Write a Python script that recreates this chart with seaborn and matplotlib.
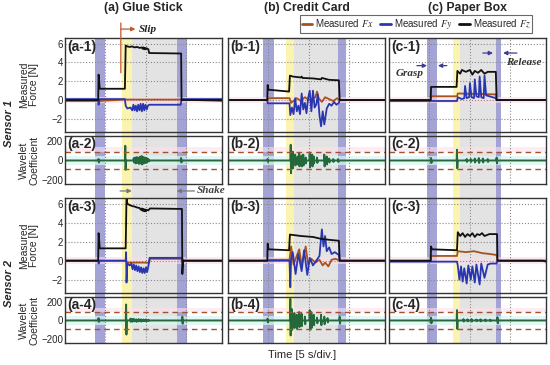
import numpy as np
import seaborn as sns
import matplotlib.pyplot as plt

sns.set_theme(style='white')
plt.rcParams['font.family'] = ['Liberation Sans', 'DejaVu Sans']
plt.rcParams['mathtext.fontset'] = 'stix'

# ---- data (time in s, force in N) ----
T_END = 19.4

# (a) glue stick, sensor 1
a1_fz_t = [0, 4.1, 4.15, 4.3, 7.4, 7.5, 7.7, 8.0, 8.3, 8.6, 8.9, 9.2, 9.5, 9.6, 9.7, 9.8, 9.9, 10.0, 10.1, 10.3, 10.4, 14.35, 14.4, T_END]
a1_fz = [0, 0, 2.7, 1.2, 1.2, 5.8, 5.7, 5.65, 5.7, 5.6, 5.65, 5.55, 5.6, 5.45, 5.6, 5.4, 5.55, 5.4, 5.5, 5.4, 5.0, 4.95, 0, 0]
a1_fy_t = [0, 4.1, 4.15, 4.3, 7.4, 7.5, 7.7, 8.1, 8.3, 8.45, 8.6, 8.75, 8.9, 9.05, 9.2, 9.35, 9.5, 9.65, 9.8, 9.95, 10.1, 10.25, 10.4, 14.3, 14.4, T_END]
a1_fy = [0.1, 0.1, -0.5, 0.1, 0.1, -0.6, -0.9, -0.8, -1.1, -0.5, -1.1, -0.6, -1.2, -0.5, -1.1, -0.4, -1.2, -0.4, -1.1, -0.5, -1.0, -0.6, -0.5, -0.5, 0.1, 0.1]
a1_fx_t = [0, 4.15, 7.5, 14.4, T_END]
a1_fx = [-0.1, -0.1, 0.05, 0.05, -0.1]
a2_t = [4.15, 7.45, 8.5, 8.7, 8.9, 9.1, 9.3, 9.5, 9.7, 9.9, 10.1, 10.3, 14.35]
a2_up = [15, 150, 25, 30, 35, 28, 40, 45, 35, 30, 25, 15, 25]
a2_dn = [-20, -95, -20, -30, -25, -35, -30, -40, -30, -25, -20, -10, -20]

# (a) glue stick, sensor 2
a3_fz_t = [0, 4.1, 4.15, 4.3, 7.5, 7.6, 7.7, 8.0, 8.3, 8.6, 8.9, 9.2, 9.4, 9.5, 9.6, 9.7, 9.8, 9.9, 10.0, 10.1, 10.3, 10.5, 14.45, 14.5, 14.6, T_END]
a3_fz = [0, 0, 2.9, 1.3, 1.3, 6.8, 6.0, 5.85, 5.75, 5.7, 5.6, 5.55, 5.35, 5.5, 5.25, 5.45, 5.2, 5.4, 5.2, 5.35, 5.3, 5.5, 5.45, -1.4, 0, 0]
a3_fy_t = [0, 4.1, 4.15, 4.3, 7.5, 7.55, 7.6, 7.7, 8.0, 8.2, 8.35, 8.5, 8.65, 8.8, 8.95, 9.1, 9.25, 9.4, 9.55, 9.7, 9.85, 10.0, 10.15, 10.3, 10.45, 14.45, 14.5, T_END]
a3_fy = [0, 0, -0.3, 0, 0, 0.9, -2.3, -0.3, -0.5, -0.3, -0.9, -0.4, -1.0, -0.5, -1.1, -0.6, -1.2, -0.7, -1.3, -0.8, -1.3, -0.7, -1.2, -0.6, 0.3, 0.3, 0, 0]
a3_fx_t = [0, 7.5, 7.7, 10.4, 10.5, 14.5, 14.6, T_END]
a3_fx = [0, 0, -0.2, -0.2, 0.2, 0.2, 0, 0]
a4_t = [4.15, 7.55, 8.1, 8.3, 8.5, 8.8, 9.1, 9.4, 9.7, 10.0, 10.3, 14.5]
a4_up = [25, 170, 20, 15, 18, 12, 15, 12, 10, 12, 8, 40]
a4_dn = [-15, -150, -15, -12, -10, -15, -10, -12, -8, -10, -6, -35]

# (b) credit card, sensor 1
b1_fz_t = [0, 4.85, 4.9, 5.0, 7.55, 7.65, 8.0, 9.0, 9.1, 9.2, 10.5, 11.5, 11.6, 12.5, 13.7, 13.8, T_END]
b1_fz = [0, 0, 1.6, 1.1, 0.9, 2.6, 2.5, 2.4, 2.5, 2.35, 2.3, 2.2, 2.35, 2.15, 2.1, 0, 0]
b1_fy_t = [0, 4.85, 4.9, 7.6, 7.7, 7.9, 8.1, 8.3, 8.5, 8.7, 8.9, 9.1, 9.3, 9.5, 9.7, 9.9, 10.1, 10.3, 10.5, 10.7, 10.9, 11.1, 11.3, 11.5, 11.7, 11.9, 12.2, 12.5, 12.8, 13.1, 13.4, 13.7, 13.8, T_END]
b1_fy = [0, 0, -0.35, -0.35, -1.6, -0.8, -1.5, 0.2, -1.2, -0.6, -1.5, 0.7, -1.0, -0.3, -1.4, 0.2, 1.0, -1.2, 1.0, -0.8, -0.5, 0.6, -1.6, -2.8, -1.2, -2.6, -0.9, -0.4, -0.6, -0.2, -0.5, -0.3, 0, 0]
b1_fx_t = [0, 4.9, 5.0, 7.6, 7.8, 8.5, 9.0, 9.5, 10.0, 10.5, 10.8, 11.0, 11.2, 11.6, 12.0, 12.5, 13.0, 13.5, 13.8, T_END]
b1_fx = [0, 0, 0.2, 0.2, -0.3, 0.2, -0.1, 0.3, 0.0, 0.2, 0.3, 0.9, 0.2, -0.2, 0.3, 0.1, -0.1, 0.2, 0, 0]
b2_t = [4.9, 7.75, 8.0, 8.3, 8.6, 8.8, 9.1, 9.3, 9.6, 10.1, 10.4, 10.6, 11.0, 11.9, 12.2, 12.5, 13.0, 13.6]
b2_up = [15, 160, 90, 60, 40, 70, 50, 60, 30, 70, 60, 40, 30, 60, 40, 20, 15, 15]
b2_dn = [-15, -130, -80, -50, -40, -60, -60, -50, -30, -70, -60, -30, -25, -60, -40, -20, -15, -15]

# (b) credit card, sensor 2
b3_fz_t = [0, 4.85, 4.9, 5.0, 7.55, 7.65, 9.0, 10.5, 11.5, 12.5, 13.7, 13.8, T_END]
b3_fz = [0, 0, 1.8, 1.2, 1.1, 2.75, 2.6, 2.5, 2.3, 2.2, 2.1, 0, 0]
b3_fy_t = [0, 7.6, 7.7, 7.8, 8.0, 8.35, 8.7, 9.1, 9.4, 9.8, 10.1, 10.5, 10.9, 11.3, 11.6, 11.8, 12.0, 12.2, 12.5, 12.8, 13.2, 13.7, 13.8, T_END]
b3_fy = [0, 0, -2.8, 0.2, 0.9, -1.4, 0.7, -1.1, 1.1, -1.5, 0.3, -0.5, 0.0, 0.5, 3.3, 1.5, 2.6, 1.0, 1.4, 0.7, 0.9, 0.6, 0, 0]
b3_fx_t = [0, 4.9, 5.0, 7.6, 7.8, 8.1, 8.4, 8.8, 9.1, 9.6, 9.9, 10.3, 10.8, 11.3, 11.7, 12.0, 12.4, 12.8, 13.3, 13.8, T_END]
b3_fx = [0, 0, 0.1, 0.1, 1.5, -0.4, 0.3, 1.2, -0.5, 1.5, -0.4, 0.2, -0.2, 0.1, -0.5, -0.2, -0.6, 0.1, 0.2, 0, 0]
b4_t = [4.9, 7.7, 7.9, 8.2, 8.5, 8.8, 9.1, 9.5, 10.1, 10.3, 10.6, 11.0, 11.5, 11.9, 12.3, 13.8]
b4_up = [20, 230, 120, 80, 60, 90, 70, 40, 110, 90, 60, 30, 60, 40, 25, 40]
b4_dn = [-20, -160, -100, -80, -90, -70, -60, -40, -100, -80, -50, -30, -50, -40, -20, -35]

# (c) paper box, sensor 1
c1_fz_t = [0, 5.15, 5.2, 8.35, 8.45, 8.8, 9.0, 9.5, 10.0, 10.3, 10.6, 11.0, 11.4, 11.8, 12.2, 13.2, 13.3, T_END]
c1_fz = [0, 0, 1.4, 1.4, 3.1, 2.8, 3.2, 3.0, 3.2, 2.7, 3.1, 2.9, 3.2, 2.8, 3.0, 3.0, 0, 0]
c1_fy_t = [0, 8.4, 8.5, 9.0, 9.3, 9.4, 9.6, 9.9, 10.0, 10.2, 10.5, 10.6, 10.8, 11.1, 11.2, 11.4, 11.7, 11.8, 12.0, 12.4, 13.2, 13.3, T_END]
c1_fy = [-0.1, -0.1, 0.3, 0.1, 0.2, 1.5, 0.2, 0.3, 1.8, 0.3, 0.2, 2.2, 0.4, 0.3, 2.5, 0.3, 0.2, 2.6, 0.5, 0.4, 0.2, 0, 0]
c1_fx_t = [0, 5.15, 5.2, 8.4, 8.5, 13.2, 13.3, T_END]
c1_fx = [0, 0, 0.4, 0.4, 0.7, 0.6, 0, 0]
c2_t = [5.2, 8.4, 9.6, 10.1, 10.6, 11.1, 11.6, 12.2, 13.3]
c2_up = [25, 110, 15, 15, 20, 25, 20, 15, 30]
c2_dn = [-25, -80, -15, -15, -20, -25, -20, -15, -30]

# (c) paper box, sensor 2
c3_fz_t = [0, 5.15, 5.2, 5.3, 8.4, 8.5, 8.8, 9.1, 9.4, 9.7, 10.0, 10.3, 10.6, 10.9, 11.2, 11.5, 11.8, 12.4, 13.35, 13.4, 19.0, T_END]
c3_fz = [0, 0, 1.5, 1.2, 1.1, 3.0, 2.6, 2.9, 2.5, 2.8, 2.6, 2.9, 2.5, 2.8, 2.7, 2.9, 2.6, 2.8, 2.8, 0, 0, -0.1]
c3_fy_t = [0, 8.4, 8.5, 8.7, 8.9, 9.1, 9.3, 9.6, 9.8, 10.1, 10.3, 10.6, 10.8, 11.2, 11.4, 11.8, 12.2, 12.6, 13.3, 13.4, T_END]
c3_fy = [-0.1, -0.1, -0.5, -2.0, -0.6, -2.2, -0.8, -2.4, -0.5, -2.0, -0.6, -2.3, -0.4, -2.5, -0.3, -1.8, -0.4, -0.3, -0.3, 0, 0]
c3_fx_t = [0, 5.15, 5.2, 8.4, 8.5, 9.5, 10.5, 11.5, 12.5, 13.3, 13.4, T_END]
c3_fx = [0, 0, 0.5, 0.5, 1.0, 0.9, 1.0, 0.8, 0.7, 0.6, 0, 0]
c4_t = [5.2, 8.4, 9.2, 9.7, 10.2, 10.8, 11.3, 11.9, 12.5, 13.4]
c4_up = [30, 110, 15, 12, 15, 10, 12, 10, 8, 35]
c4_dn = [-30, -90, -12, -10, -12, -8, -10, -8, -6, -30]

# phase bands per column: grasp, slip, shake, release
grasp = [(3.65, 4.9), (4.3, 5.7), (4.7, 5.9)]
slip = [(7.1, 8.3), (7.2, 8.15), (7.9, 8.8)]
shake = [(8.3, 13.8), (8.15, 13.6), (8.8, 13.2)]
release = [(13.8, 15.1), (13.6, 14.6), (13.2, 13.8)]

titles = ['(a) Glue Stick', '(b) Credit Card', '(c) Paper Box']
FX_C, FY_C, FZ_C, WV_C = '#a5521f', '#2a36b0', '#111111', '#25683a'

# ---- layout in pixels ----
W, H = 550, 365
fig = plt.figure(figsize=(5.5, 3.65), dpi=100)


def box(x0, y0, x1, y1):
    return [x0 / W, 1 - y1 / H, (x1 - x0) / W, (y1 - y0) / H]


col_x = [(65, 222), (228, 385), (389, 546)]
row_y = [(38, 132), (136, 184), (198, 293), (297, 343)]


def spikes(t, up, dn):
    xs, ys = [0], [0]
    for ti, u, d in zip(t, up, dn):
        xs += [ti - 0.04, ti, ti + 0.04, ti + 0.08]
        ys += [0, u, d, 0]
    xs.append(T_END)
    ys.append(0)
    return xs, ys


force = {
    (0, 0): (a1_fx_t, a1_fx, a1_fy_t, a1_fy, a1_fz_t, a1_fz),
    (2, 0): (a3_fx_t, a3_fx, a3_fy_t, a3_fy, a3_fz_t, a3_fz),
    (0, 1): (b1_fx_t, b1_fx, b1_fy_t, b1_fy, b1_fz_t, b1_fz),
    (2, 1): (b3_fx_t, b3_fx, b3_fy_t, b3_fy, b3_fz_t, b3_fz),
    (0, 2): (c1_fx_t, c1_fx, c1_fy_t, c1_fy, c1_fz_t, c1_fz),
    (2, 2): (c3_fx_t, c3_fx, c3_fy_t, c3_fy, c3_fz_t, c3_fz),
}
wave = {
    (1, 0): (a2_t, a2_up, a2_dn), (3, 0): (a4_t, a4_up, a4_dn),
    (1, 1): (b2_t, b2_up, b2_dn), (3, 1): (b4_t, b4_up, b4_dn),
    (1, 2): (c2_t, c2_up, c2_dn), (3, 2): (c4_t, c4_up, c4_dn),
}

axes = {}
for c, (x0, x1) in enumerate(col_x):
    # background strip carrying the phase bands through all four rows
    bg = fig.add_axes(box(x0, 38, x1, 343), zorder=0)
    bg.set_xlim(0, T_END)
    bg.axis('off')
    bg.axvspan(*grasp[c], color='#a4a3d6', lw=0)
    bg.axvspan(*release[c], color='#a4a3d6', lw=0)
    bg.axvspan(*slip[c], color='#fbf4ae', lw=0)
    bg.axvspan(*shake[c], color='#e3e3e3', lw=0)
    for r, (y0, y1) in enumerate(row_y):
        ax = fig.add_axes(box(x0, y0, x1, y1), zorder=1)
        ax.set_facecolor('none')
        axes[(r, c)] = ax

for (r, c), ax in axes.items():
    ax.set_xlim(0, T_END)
    ax.set_xticks([5, 10, 15])
    ax.set_xticklabels([])
    if r in (0, 2):
        fxt, fx, fyt, fy, fzt, fz = force[(r, c)]
        ax.axhspan(-0.35, 0.35, color='#ffdbe8', alpha=0.6, lw=0, zorder=0)
        sns.lineplot(x=fxt, y=fx, ax=ax, color=FX_C, lw=1.3, estimator=None, sort=False, label='Measured $Fx$')
        sns.lineplot(x=fyt, y=fy, ax=ax, color=FY_C, lw=1.3, estimator=None, sort=False, label='Measured $Fy$')
        sns.lineplot(x=fzt, y=fz, ax=ax, color=FZ_C, lw=1.3, estimator=None, sort=False, label='Measured $Fz$')
        ax.set_ylim(-3.4, 6.6)
        ax.set_yticks([-2, 0, 2, 4, 6])
        ax.grid(True, ls=':', color='#8a8a8a', lw=0.8)
    else:
        t, up, dn = wave[(r, c)]
        xs, ys = spikes(t, up, dn)
        ax.axhspan(-45, 45, color='#d8f6f4', alpha=0.7, lw=0, zorder=0)
        ax.axhspan(90, 135, color='#fde2ec', alpha=0.6, lw=0, zorder=0)
        sns.lineplot(x=xs, y=ys, ax=ax, color=WV_C, lw=1.4, estimator=None, sort=False)
        for thr in (90, -90):
            ax.axhline(thr, color='#a0522d', ls=(0, (4, 3)), lw=1.0)
        ax.set_ylim(-240, 250)
        ax.set_yticks([-200, 0, 200])
        ax.grid(True, axis='x', ls=':', color='#8a8a8a', lw=0.8)
    if c > 0:
        ax.set_yticklabels([])
    ax.tick_params(length=0, labelsize=7, pad=1.5)
    ax.set_xlabel('')
    ax.set_ylabel('')
    for s in ax.spines.values():
        s.set_color('#333333')
        s.set_linewidth(1.0)
    ax.text(0.015, 0.975, '(%s-%d)' % ('abc'[c], r + 1), transform=ax.transAxes,
            ha='left', va='top', fontsize=10, fontweight='bold')

handles, labels = axes[(0, 0)].get_legend_handles_labels()
for ax in axes.values():
    if ax.get_legend() is not None:
        ax.get_legend().remove()
leg = fig.legend(handles, labels, loc='center', bbox_to_anchor=(416 / W, 1 - 24 / H), ncol=3,
                 fontsize=7, frameon=True, fancybox=False, edgecolor='#444444', handlelength=1.1,
                 handletextpad=0.3, columnspacing=0.7, borderpad=0.2)
leg.get_frame().set_linewidth(0.8)
for ln in leg.get_lines():
    ln.set_linewidth(2)

# titles and labels
for c, (x0, x1) in enumerate(col_x):
    fig.text((x0 + x1) / 2 / W, 1 - 8 / H, titles[c], ha='center', va='center',
             fontsize=8.8, fontweight='bold')
for r, (y0, y1) in enumerate(row_y):
    lab = 'Measured\nForce [N]' if r in (0, 2) else 'Wavelet\nCoefficient'
    fig.text(29 / W, 1 - (y0 + y1) / 2 / H, lab, rotation=90, ha='center', va='center',
             fontsize=7.5, linespacing=1.0)
fig.text(9 / W, 1 - 123 / H, 'Sensor 1', rotation=90, ha='center', va='center',
         fontsize=8, fontweight='bold', fontstyle='italic')
fig.text(9 / W, 1 - 283 / H, 'Sensor 2', rotation=90, ha='center', va='center',
         fontsize=8, fontweight='bold', fontstyle='italic')
fig.text(302 / W, 1 - 355 / H, 'Time [5 s/div.]', ha='center', va='center', fontsize=8)

serif = dict(family='Liberation Serif', style='italic', weight='bold', fontsize=8)


def arrow(color, style='-|>'):
    return dict(arrowstyle=style, color=color, lw=0.9, mutation_scale=6, shrinkA=0, shrinkB=0)


# slip marker
ax = axes[(0, 0)]
ax.annotate('', xy=(6.9, 2.9), xytext=(6.9, 8.2), annotation_clip=False,
            arrowprops=arrow('#c4562b', '-'))
ax.annotate('', xy=(8.7, 7.55), xytext=(6.9, 7.55), annotation_clip=False,
            arrowprops=arrow('#c4562b'))
ax.text(9.1, 7.55, 'Slip', va='center', ha='left', color='#222222', **serif)

# shake marker
ax = axes[(1, 0)]
ax.annotate('', xy=(8.25, -311), xytext=(6.8, -311), annotation_clip=False,
            arrowprops=arrow('#777777'))
ax.annotate('', xy=(13.8, -311), xytext=(16.0, -311), annotation_clip=False,
            arrowprops=arrow('#777777'))
ax.text(16.25, -311, 'Shake', va='center', ha='left', color='#444444', clip_on=False, **serif)

# grasp / release markers
ax = axes[(0, 2)]
nav = arrow('#3b3b9c')
ax.annotate('', xy=(4.7, 3.66), xytext=(3.45, 3.66), arrowprops=nav)
ax.annotate('', xy=(6.05, 3.66), xytext=(7.15, 3.66), arrowprops=nav)
ax.text(2.6, 2.8, 'Grasp', ha='center', va='center', color='#333333', **serif)
ax.annotate('', xy=(12.85, 5.0), xytext=(11.6, 5.0), arrowprops=nav)
ax.annotate('', xy=(14.1, 5.0), xytext=(15.8, 5.0), arrowprops=nav)
ax.text(16.6, 4.0, 'Release', ha='center', va='center', color='#333333', **serif)

fig.savefig('out.png', dpi=100)
